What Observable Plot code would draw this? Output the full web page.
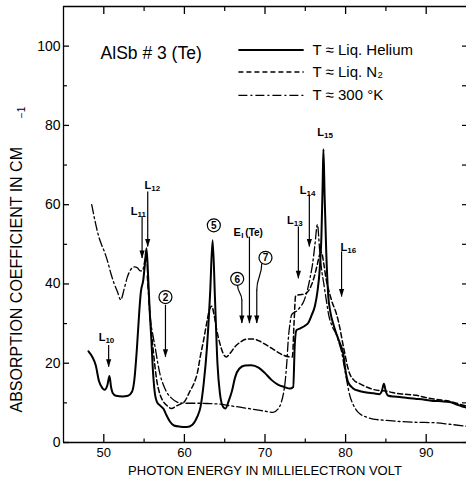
<!DOCTYPE html>
<html><head><meta charset="utf-8">
<script src="https://cdn.jsdelivr.net/npm/d3@7"></script>
<script src="https://cdn.jsdelivr.net/npm/@observablehq/plot@0.6"></script>
<style>body{margin:0;background:#fff} svg{display:block}</style>
</head><body><div id="chart"></div>
<script>
// Photon energy (meV), absorption coefficient (cm^-1)
const helium = [[48.1,23],[48.6,21.5],[49.0,19.5],[49.4,15.5],[49.8,13.8],[50.1,13.3],[50.45,14.5],[50.7,16.8],[50.9,14],[51.1,12.5],[51.5,11.8],[52.3,11.6],[53.0,11.8],[53.5,12.8],[53.8,16],[54.1,23.5],[54.4,33],[54.6,38],[54.9,41],[55.1,45],[55.3,49],[55.5,42],[55.7,33],[55.9,26],[56.1,18],[56.3,13],[56.6,10.2],[57.0,9.3],[57.4,8.5],[57.8,6.8],[58.2,5.3],[58.7,4.3],[59.5,4.0],[60.3,3.9],[61.0,4.5],[61.6,6.5],[62.0,9],[62.4,15],[62.8,24],[63.2,38],[63.5,51],[63.8,36],[64.1,20],[64.4,12.5],[64.8,9],[65.1,8.6],[65.5,10.5],[65.9,13],[66.3,16.5],[66.8,18.6],[67.5,19.4],[68.3,19.5],[69.2,18.9],[70.0,17.5],[70.8,15.8],[71.6,14.6],[72.4,14],[73.1,13.6],[73.5,14],[73.7,25],[73.9,28.3],[74.4,28.8],[75.0,29.5],[75.4,30.3],[75.8,32.2],[76.2,34.5],[76.5,38],[76.8,44],[77.0,52],[77.15,65],[77.25,74],[77.4,62],[77.6,48],[77.85,37],[78.1,33],[78.5,29.7],[78.9,27.2],[79.3,25],[79.7,22.5],[80.0,18],[80.3,15.3],[80.9,13.7],[81.7,13],[82.6,12.6],[83.5,12.4],[84.2,12.2],[84.5,13],[84.75,14.8],[85.0,12.8],[85.3,11.8],[86.0,11.6],[86.7,11.5],[87.7,11.2],[88.8,11],[89.8,10.8],[90.9,10.5],[91.9,10.4],[92.9,10.2],[93.8,9.6],[94.6,9],[95,8.8]];
const nitrogen = [[55.4,42],[55.6,36],[55.8,30],[56.0,26],[56.3,20],[56.6,15.3],[57.0,12],[57.4,10.3],[57.9,9.2],[58.4,8.6],[59.0,9.2],[59.5,9.7],[60.0,10.3],[60.7,13],[61.2,15],[61.6,17.5],[62.0,22],[62.4,26],[62.8,30.5],[63.1,33.5],[63.4,34.4],[63.7,32],[64.0,28.5],[64.4,25],[64.8,22.5],[65.2,21.6],[65.7,22.6],[66.3,24.2],[67.0,25.4],[67.8,26.1],[68.5,26.1],[69.3,25.6],[70.0,24.8],[70.8,23.8],[71.5,22.9],[72.3,22],[73.1,21.6],[73.4,21.6],[73.6,30],[73.8,37],[74.3,37.3],[74.8,37.4],[75.3,38],[75.8,39.9],[76.2,42.5],[76.5,45],[76.8,47.5],[77.0,48],[77.3,45],[77.6,41],[77.9,38.5],[78.3,35.6],[78.9,32.2],[79.3,28.8],[79.6,25.5],[79.9,22.5],[80.2,19.5],[80.5,17.4],[81.0,15.8],[81.8,14.8],[82.6,14],[83.4,13.4],[84.2,13.1],[85.0,13],[85.8,12.6],[86.7,12.3],[87.7,12.1],[88.8,11.9],[89.8,11.4],[90.9,11],[91.9,10.7],[92.9,10.4],[93.8,9.9],[94.6,9.4],[95,9.2]];
const room = [[48.5,60],[48.9,56],[49.3,52.5],[49.7,50],[50.1,48],[50.5,45.5],[50.9,42.5],[51.3,40],[51.7,38],[52.1,36],[52.5,38.5],[52.9,41.6],[53.3,43.5],[53.8,44.3],[54.2,44],[54.5,43.3],[54.8,43.3],[55.1,46],[55.3,47],[55.5,40],[55.8,31],[56.1,27],[56.4,23.7],[56.7,20],[57.0,17],[57.4,14.5],[57.8,12.7],[58.4,11.2],[59.1,10.2],[60.0,9.9],[61.1,9.9],[62.0,9.9],[63.2,9.8],[64.4,9.7],[65.6,9.3],[66.9,8.9],[68.2,8.5],[69.4,8.1],[70.3,7.8],[71.0,7.6],[71.6,8.4],[72.0,10],[72.3,12.5],[72.5,15.3],[72.7,20],[72.9,26.3],[73.1,30],[73.3,32.2],[73.6,32.8],[73.9,33.1],[74.3,34],[74.8,35.6],[75.2,38],[75.6,41.6],[75.9,45],[76.2,50],[76.5,55],[76.8,48],[77.0,44],[77.3,40],[77.6,36],[77.9,32.2],[78.3,29.5],[78.9,27],[79.2,25],[79.5,22.9],[79.8,19.5],[80.1,16.1],[80.5,12],[80.95,9.5],[81.4,8],[81.8,7.2],[82.6,6.4],[83.4,5.9],[85.0,5.6],[86.7,5.3],[88.8,5.1],[90.9,5.0],[92.9,4.6],[94.6,4.2],[95,4.1]];

// Axis ticks
const xMajor = [50, 60, 70, 80, 90];
const xMinor = [55, 65, 75, 85];
const yMajor = [0, 20, 40, 60, 80, 100];
const yMinor = [10, 30, 50, 70, 90];

// Annotations
const lineLabels = [
  {x: 50.2, y: 26.4, sub: "10"}, {x: 54.18, y: 58.3, sub: "11"}, {x: 55.9, y: 64.8, sub: "12"},
  {x: 73.57, y: 56.1, sub: "13"}, {x: 75.15, y: 63.6, sub: "14"}, {x: 77.33, y: 78.2, sub: "15"},
  {x: 80.2, y: 49.3, sub: "16"}
];
const arrows = [
  {x: 50.6, top: 24.5, tip: 19.0}, {x: 54.75, top: 56.9, tip: 46.4}, {x: 55.45, top: 63.2, tip: 49.3},
  {x: 57.65, top: 34.6, tip: 21.5}, {x: 68.07, top: 51.8, tip: 30.0}, {x: 67.13, top: 35.9, tip: 30.0},
  {x: 68.98, top: 38.4, tip: 30.0}, {x: 74.14, top: 54.4, tip: 41.3}, {x: 75.5, top: 62.4, tip: 49.3},
  {x: 79.5, top: 48.1, tip: 36.7}
];
const circles = [
  {x: 57.65, y: 36.7, n: "2"}, {x: 63.65, y: 54.8, n: "5"}, {x: 66.55, y: 41.3, n: "6"}, {x: 70.06, y: 46.6, n: "7"}
];
const leaders = [
  {x1: 66.6, y1: 39.7, x2: 67.13, y2: 35.9}, {x1: 69.6, y1: 45.2, x2: 68.98, y2: 38.4}
];
const eLabel = {x: 67.0, y: 53.0};
const legend = [
  {label: "T \u2248 Liq. Helium", y: 99.0, dash: null, width: 2},
  {label: "T \u2248 Liq. N\u2082", y: 93.5, dash: "5,3", width: 1.5},
  {label: "T \u2248 300 \u00b0K", y: 87.6, dash: "9,3,2,3", width: 1.3}
];
const legendX = {x1: 66.7, x2: 74.8, text: 75.9};
const sampleLabel = {x: 49.6, y: 98.2, text: "AlSb # 3 (Te)"};

const W = 466, H = 485, mt = 6, ml = 63, mr = 0, mb = 43;
const iw = W - ml - mr, ih = H - mt - mb;
const font = "'Liberation Sans', Arial, sans-serif";

const marks = [
  Plot.ruleX([45], {stroke: "black", strokeWidth: 1.3}),
  Plot.ruleY([0, 110], {stroke: "black", strokeWidth: 1.3}),
  Plot.ruleX(xMajor, {insetTop: ih - 8, strokeWidth: 1.3}),
  Plot.ruleX(xMinor, {insetTop: ih - 3.5, strokeWidth: 1.2}),
  Plot.ruleX(xMajor, {insetBottom: ih - 8, strokeWidth: 1.3}),
  Plot.ruleX(xMinor, {insetBottom: ih - 5, strokeWidth: 1.2}),
  Plot.ruleY(yMajor, {insetRight: iw - 6, strokeWidth: 1.3}),
  Plot.ruleY(yMinor, {insetRight: iw - 4, strokeWidth: 1.2}),
  Plot.ruleY(yMajor.concat(yMinor), {insetLeft: iw - 4, strokeWidth: 1.2}),
  Plot.axisX({ticks: xMajor, tickSize: 0, tickPadding: 5, label: null, fontSize: 13}),
  Plot.axisY({ticks: yMajor, tickSize: 0, tickPadding: 3, label: null, fontSize: 14}),
  Plot.text(["PHOTON ENERGY IN MILLIELECTRON VOLT"], {frameAnchor: "bottom", dy: 28, fontSize: 13, lineAnchor: "middle"}),
  Plot.text(["ABSORPTION COEFFICIENT IN CM"], {frameAnchor: "bottom-left", dx: -42, dy: -30, rotate: -90, textAnchor: "start", fontSize: 16}),
  Plot.text(["\u22121"], {frameAnchor: "top-left", dx: -46, dy: 106, rotate: -90, textAnchor: "middle", fontSize: 10}),
  // curves
  Plot.line(helium, {x: d => d[0], y: d => d[1], strokeWidth: 2, curve: "monotone-x"}),
  Plot.line(nitrogen, {x: d => d[0], y: d => d[1], strokeWidth: 1.5, strokeDasharray: "5,3", curve: "monotone-x"}),
  Plot.line(room, {x: d => d[0], y: d => d[1], strokeWidth: 1.3, strokeDasharray: "9,3,2,3", curve: "monotone-x"}),
  // annotations
  Plot.ruleX(arrows, {x: "x", y1: "top", y2: "tip", strokeWidth: 1.2}),
  Plot.vector(arrows, {x: "x", y: "tip", length: 8, rotate: 180, anchor: "end", shape: "spike", r: 2.6, fill: "black", stroke: "none"}),
  Plot.link(leaders, {x1: "x1", y1: "y1", x2: "x2", y2: "y2", curve: "bump-y", strokeWidth: 1.2}),
  Plot.dot(circles, {x: "x", y: "y", r: 6.5, stroke: "black", strokeWidth: 1.2, fill: "white"}),
  Plot.text(circles, {x: "x", y: "y", text: "n", fontSize: 10, fontWeight: "bold", dy: 0.5}),
  Plot.text(lineLabels, {x: "x", y: "y", text: () => "L", textAnchor: "end", fontSize: 11, fontWeight: "bold"}),
  Plot.text(lineLabels, {x: "x", y: "y", text: "sub", textAnchor: "start", fontSize: 8, fontWeight: "bold", dy: 3}),
  Plot.text([eLabel], {x: "x", y: "y", text: () => "E", textAnchor: "end", fontSize: 11, fontWeight: "bold"}),
  Plot.text([eLabel], {x: "x", y: "y", text: () => "I", textAnchor: "start", fontSize: 8, fontWeight: "bold", dy: 3, dx: 0.5}),
  Plot.text([eLabel], {x: "x", y: "y", text: () => "(Te)", textAnchor: "start", fontSize: 10, fontWeight: "bold", dx: 4.5}),
  Plot.text([sampleLabel], {x: "x", y: "y", text: "text", textAnchor: "start", fontSize: 17.5}),
  ...legend.map(d => Plot.link([d], {x1: () => legendX.x1, x2: () => legendX.x2, y1: "y", y2: "y", strokeWidth: d.width, strokeDasharray: d.dash})),
  Plot.text(legend, {x: () => legendX.text, y: "y", text: "label", textAnchor: "start", fontSize: 15})
];

const chart = Plot.plot({
  width: W, height: H,
  marginTop: mt, marginLeft: ml, marginRight: mr, marginBottom: mb,
  x: {domain: [45, 95]},
  y: {domain: [0, 110]},
  style: {fontFamily: font, color: "black", background: "white"},
  marks
});
document.getElementById("chart").appendChild(chart);
</script>
</body></html>
